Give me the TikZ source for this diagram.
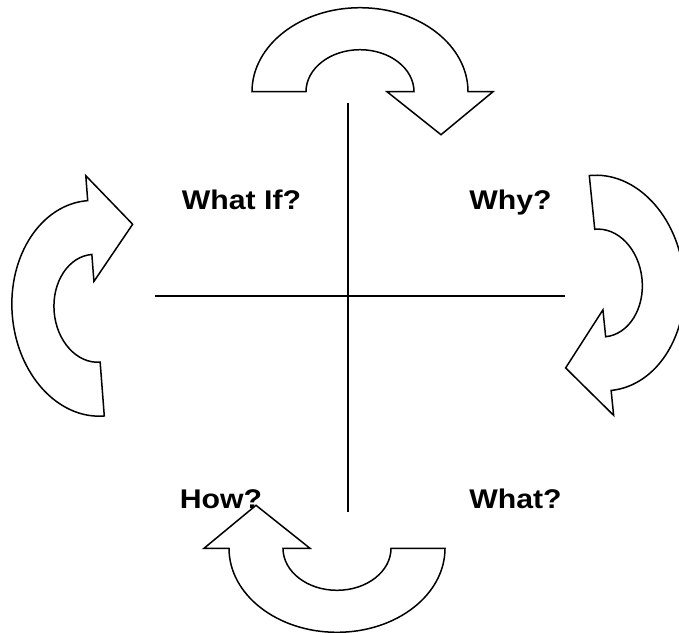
\documentclass[tikz,border=0pt]{standalone}
\usepackage{fontspec}
\setmainfont{Liberation Sans}
\newfontfamily\lblfont{Liberation Sans}[FakeStretch=1.12]
\tikzset{
  outline/.style={draw=black,line width=1.5pt,fill=white,line join=miter},
  axis/.style={draw=black,line width=1.6pt},
  label/.style={font=\lblfont\fontsize{27}{31}\selectfont\bfseries,anchor=base,inner sep=0pt},
  uturn/.pic={
    \path[outline] (-108,0) arc[start angle=180,end angle=0,x radius=108,y radius=84]
      -- (133,0) -- (81,-43) -- (27,0) -- (54,0)
      arc[start angle=0,end angle=180,x radius=54,y radius=42] -- cycle;
  }
}
\begin{document}
\begin{tikzpicture}[x=1pt,y=1pt]
\useasboundingbox (0,0) rectangle (679,-632);
\fill[white] (0,0) rectangle (679,-632);
% axes
\coordinate (vtop) at (347.7,-103);
\coordinate (vbot) at (347.7,-512);
\coordinate (hleft) at (155,-296);
\coordinate (hright) at (565,-296);
\draw[axis] (vtop) -- (vbot);
\draw[axis] (hleft) -- (hright);
% curved arrows
\pic at (360,-91.7) {uturn};
\pic[rotate=-84.2] at (600.2,-283) {uturn};
\pic[rotate=94.4] at (96,-308.3) {uturn};
\pic[rotate=180] at (337,-548.3) {uturn};
% labels
\node[label] (whatif) at (241.5,-209) {What If?};
\node[label] (why) at (510.5,-209) {Why?};
\node[label] (how) at (221,-508) {How?};
\node[label] (what) at (515.5,-508.5) {What?};
\end{tikzpicture}
\end{document}
